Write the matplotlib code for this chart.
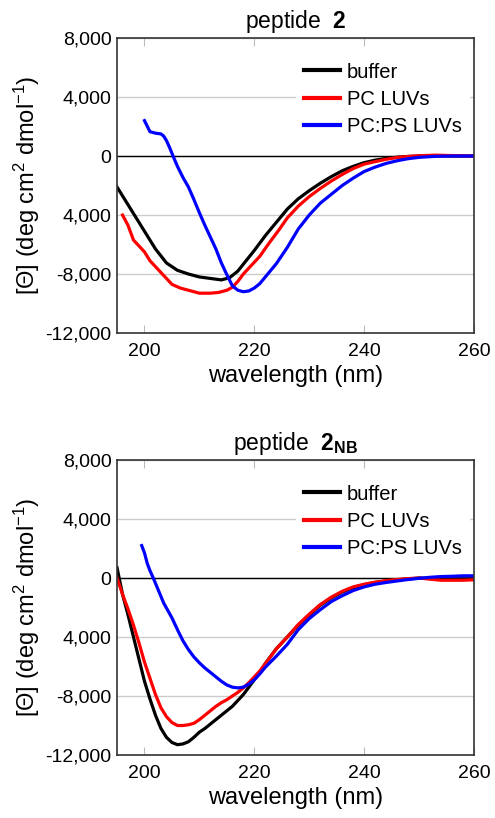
from matplotlib import pyplot as plt
from matplotlib.ticker import FixedLocator
import numpy as np

plt.rcParams['font.family'] = ['Liberation Sans', 'DejaVu Sans']
plt.rcParams['mathtext.fontset'] = 'custom'
plt.rcParams['mathtext.rm'] = 'Liberation Sans'
plt.rcParams['mathtext.it'] = 'Liberation Sans:italic'
plt.rcParams['mathtext.bf'] = 'Liberation Sans:bold'

# peptide 2
p2_buffer_wl = [195, 196.5, 198, 200, 202, 204, 206, 208, 210, 212, 214, 215.5, 217, 218.5, 220, 222, 224, 226, 228,
                230, 232, 234, 236, 238, 240, 242, 244, 246, 248, 250, 253, 256, 260]
p2_buffer = [-2100, -3000, -3900, -5100, -6300, -7250, -7750, -8000, -8200, -8300, -8400, -8250, -7800, -7100, -6400,
             -5400, -4500, -3600, -2900, -2350, -1850, -1400, -1000, -700, -450, -280, -160, -80, -30, 0, 20, 0, 0]

p2_pc_wl = [196, 197, 198, 199, 200, 201, 202, 203, 204, 205, 206.5, 208, 210, 212, 213.5, 215, 216, 217, 218, 219.5,
            221, 222.5, 224.5, 226, 228, 230, 232, 234, 236, 238, 240, 242, 244, 246, 248, 250, 253, 256, 260]
p2_pc = [-4000, -4700, -5700, -6100, -6500, -7100, -7500, -7900, -8300, -8700, -8950, -9100, -9300, -9300, -9250,
         -9100, -8900, -8500, -8000, -7400, -6800, -6000, -5000, -4200, -3400, -2750, -2200, -1700, -1250, -850, -550,
         -380, -220, -100, -30, 20, 60, 30, 0]

p2_pcps_wl = [200, 201, 202, 203, 203.5, 204, 204.6, 205.2, 206, 207, 208, 209, 210, 211, 212, 213, 214, 215, 216,
              217, 218, 219, 220, 221, 222, 224, 226, 228, 230, 232, 234, 236, 238, 240, 242, 244, 246, 248, 250, 253,
              256, 260]
p2_pcps = [2400, 1650, 1550, 1500, 1350, 1050, 550, 0, -700, -1450, -2100, -2950, -3850, -4700, -5500, -6300, -7250,
           -8050, -8800, -9100, -9200, -9150, -8950, -8650, -8200, -7300, -6200, -4950, -4000, -3200, -2600, -2000,
           -1500, -1050, -750, -500, -320, -180, -90, -20, 0, 0]

# peptide 2NB
nb_buffer_wl = [195, 196, 197, 198, 199, 200, 201, 202, 203, 204, 205, 206, 207, 208, 209, 210, 211, 212, 213, 214,
                215, 216, 217, 218, 219, 220, 221, 222, 224, 226, 228, 230, 232, 234, 236, 238, 240, 242, 244, 246,
                248, 250, 253, 256, 260]
nb_buffer = [700, -1100, -2500, -4000, -5500, -7000, -8200, -9300, -10200, -10800, -11150, -11300, -11250, -11100,
             -10800, -10450, -10200, -9900, -9600, -9300, -9000, -8700, -8300, -7900, -7400, -6900, -6400, -5800,
             -4800, -4000, -3200, -2500, -1850, -1350, -950, -650, -450, -300, -200, -120, -60, 0, -50, -50, -50]

nb_pc_wl = [195, 196, 197, 198, 199, 200, 201, 202, 203, 204, 205, 206, 207, 208, 209, 210, 211, 212, 213, 214, 215,
            216, 217, 218, 219, 220, 221, 222, 224, 226, 228, 230, 232, 234, 236, 238, 240, 242, 244, 246, 248, 250,
            252, 254, 256, 258, 260]
nb_pc = [0, -1100, -2100, -3200, -4400, -5700, -6800, -7900, -8800, -9400, -9800, -10000, -10000, -9950, -9850, -9600,
         -9300, -9000, -8700, -8450, -8250, -8000, -7750, -7450, -7100, -6700, -6300, -5800, -4800, -4000, -3150,
         -2450, -1800, -1300, -900, -600, -420, -280, -180, -100, -40, 0, -80, -150, -150, -150, -120]

nb_pcps_wl = [199.5, 200, 200.5, 201, 201.6, 202.5, 203.5, 205, 206, 207, 208, 209, 210, 211, 212, 213, 214, 215, 216,
              217, 218, 219, 220, 221, 222, 224, 226, 228, 230, 232, 234, 236, 238, 240, 242, 244, 246, 248, 250, 252,
              254, 256, 258, 260]
nb_pcps = [2200, 1700, 1000, 500, 0, -800, -1700, -2700, -3500, -4250, -4850, -5350, -5750, -6100, -6400, -6700,
           -7000, -7250, -7400, -7450, -7400, -7200, -6900, -6500, -6050, -5300, -4500, -3500, -2750, -2150, -1600,
           -1200, -850, -600, -420, -300, -200, -100, -20, 50, 100, 120, 150, 150]

series_labels = ['buffer', 'PC LUVs', 'PC:PS LUVs']
series_colors = ['black', '#ff0000', '#0000ff']
y_ticks = [8000, 4000, 0, -4000, -8000, -12000]
y_tick_labels = ['8,000', '4,000', '0', '4,000', '-8,000', '-12,000']
x_ticks = [200, 220, 240, 260]

panels = [
    (r'peptide  $\mathbf{2}$', [(p2_buffer_wl, p2_buffer), (p2_pc_wl, p2_pc), (p2_pcps_wl, p2_pcps)]),
    (r'peptide  $\mathbf{2_{NB}}$', [(nb_buffer_wl, nb_buffer), (nb_pc_wl, nb_pc), (nb_pcps_wl, nb_pcps)]),
]

fig = plt.figure(figsize=(4.95, 8.18), dpi=100)
axes_pos = [[0.2364, 0.5929, 0.7212, 0.3606], [0.2364, 0.0770, 0.7212, 0.3606]]

for pos, (title, data) in zip(axes_pos, panels):
    ax = fig.add_axes(pos)
    ax.axhline(0, color='black', lw=1.0, zorder=2)
    for (wl, vals), label, color in zip(data, series_labels, series_colors):
        ax.plot(wl, vals, color=color, lw=2.3, label=label, zorder=3)
    ax.set_xlim(195, 260)
    ax.set_ylim(-12000, 8000)
    ax.yaxis.set_major_locator(FixedLocator(y_ticks))
    ax.set_yticklabels(y_tick_labels)
    ax.set_xticks(x_ticks)
    ax.grid(axis='y', color='#cccccc', lw=1.0)
    ax.tick_params(axis='y', length=0, pad=4, labelsize=14)
    ax.tick_params(axis='x', direction='in', length=6, color='#bbbbbb', top=True, pad=7, labelsize=14)
    for sp in ax.spines.values():
        sp.set_color('#333333')
        sp.set_linewidth(1.2)
        sp.set_zorder(4)
    ax.set_xlabel('wavelength (nm)', fontsize=17, labelpad=4)
    ax.set_ylabel(r'[$\Theta$] (deg cm$^2$ dmol$^{-1}$)', fontsize=17)
    ax.yaxis.set_label_coords(-0.21, 0.5)
    ax.set_title(title, fontsize=16.5, pad=7)
    leg = ax.legend(loc='upper right', fontsize=14.5, handlelength=1.8, handletextpad=0.35, labelspacing=0.4,
                    borderaxespad=0.2, frameon=True, fancybox=False, bbox_to_anchor=(1.0, 0.958))
    leg.get_frame().set_edgecolor('none')
    leg.get_frame().set_facecolor('white')
    leg.get_frame().set_alpha(1.0)
    for line in leg.get_lines():
        line.set_linewidth(3)

plt.savefig('out.png', dpi=100)
